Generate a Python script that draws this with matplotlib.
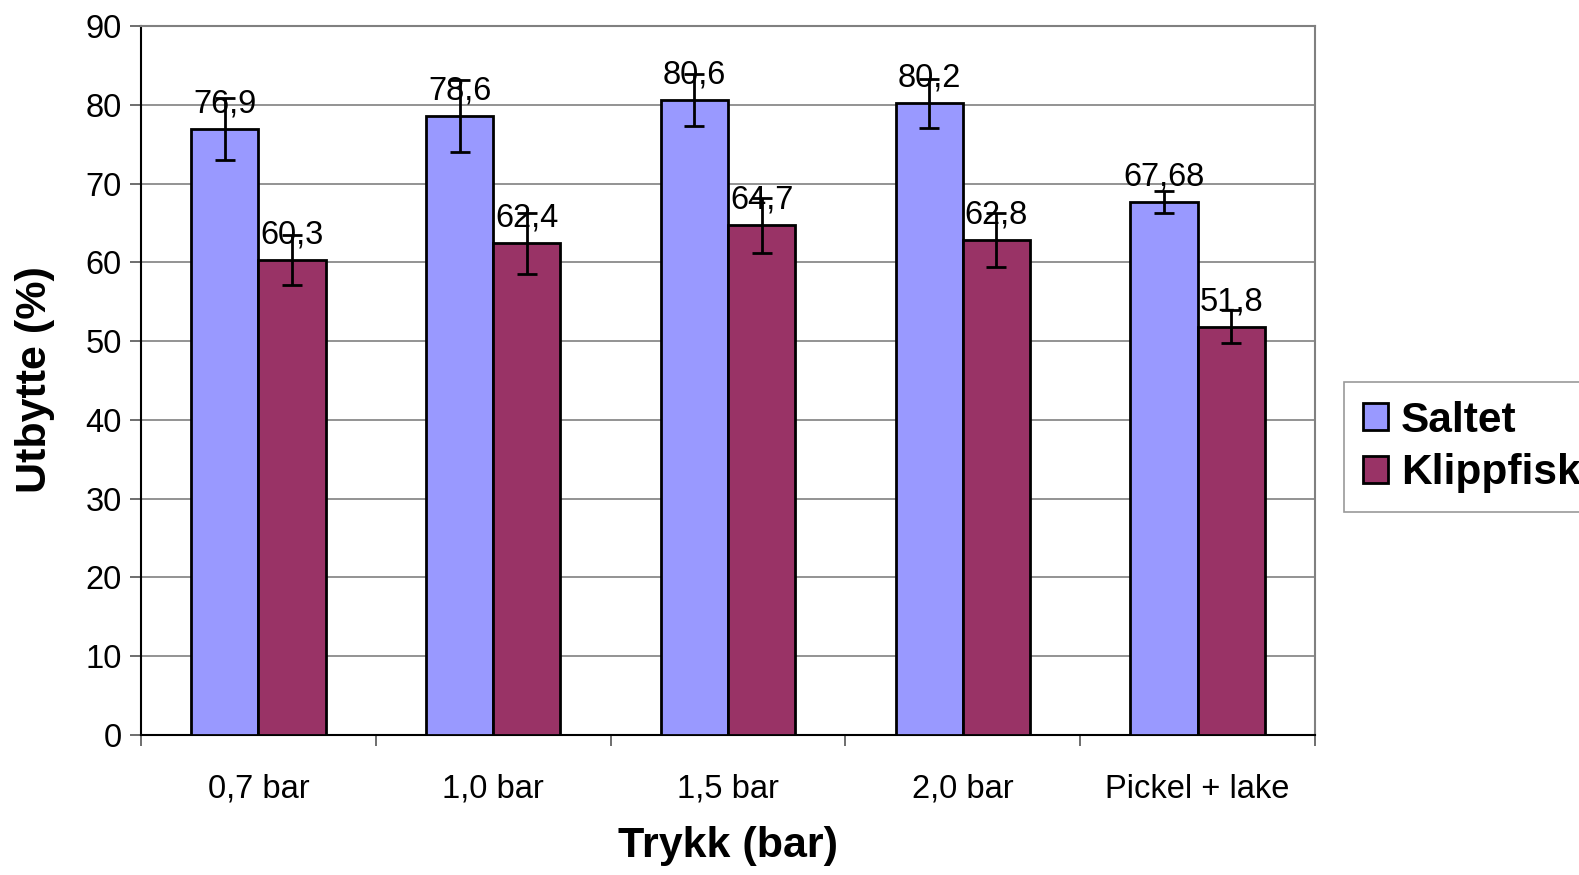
import matplotlib
matplotlib.use("Agg")
import matplotlib.pyplot as plt
import numpy as np

categories = ["0,7 bar", "1,0 bar", "1,5 bar", "2,0 bar", "Pickel + lake"]
saltet = [76.9, 78.6, 80.6, 80.2, 67.68]
klippfisk = [60.3, 62.4, 64.7, 62.8, 51.8]
saltet_err = [3.9, 4.6, 3.3, 3.1, 1.4]
klippfisk_err = [3.2, 3.9, 3.5, 3.4, 2.1]
saltet_labels = ["76,9", "78,6", "80,6", "80,2", "67,68"]
klippfisk_labels = ["60,3", "62,4", "64,7", "62,8", "51,8"]

plt.rcParams['font.family'] = ['Liberation Sans', 'DejaVu Sans']

fig = plt.figure(figsize=(15.79, 8.75), dpi=100)
ax = fig.add_axes([141/1579, 1 - 735/875, (1315-141)/1579, (735-26)/875])

x = np.arange(len(categories))
w = 0.286
c1 = '#9999ff'
c2 = '#993366'
b1 = ax.bar(x - w/2, saltet, w, color=c1, edgecolor='black', linewidth=2, zorder=3, label='Saltet')
b2 = ax.bar(x + w/2, klippfisk, w, color=c2, edgecolor='black', linewidth=2, zorder=3, label='Klippfisk')
ax.errorbar(x - w/2, saltet, yerr=saltet_err, fmt='none', ecolor='black', elinewidth=2, capsize=7, capthick=2, zorder=4)
ax.errorbar(x + w/2, klippfisk, yerr=klippfisk_err, fmt='none', ecolor='black', elinewidth=2, capsize=7, capthick=2, zorder=4)

for xi, v, lab in zip(x - w/2, saltet, saltet_labels):
    ax.annotate(lab, (xi, v), xytext=(0, 7), textcoords='offset points', ha='center', va='bottom', fontsize=23.5, zorder=5)
for xi, v, lab in zip(x + w/2, klippfisk, klippfisk_labels):
    ax.annotate(lab, (xi, v), xytext=(0, 7), textcoords='offset points', ha='center', va='bottom', fontsize=23.5, zorder=5)

ax.set_xlim(-0.5, len(categories) - 0.5)
ax.set_ylim(0, 90)
ax.set_yticks(np.arange(0, 91, 10))
ax.yaxis.grid(True, color='#808080', linewidth=1.2, zorder=0)
ax.set_axisbelow(True)

ax.set_xticks(np.arange(-0.5, len(categories), 1.0))
ax.set_xticklabels([])
ax.set_xticks(x, minor=True)
ax.set_xticklabels(categories, minor=True, fontsize=23.5)
ax.tick_params(axis='x', which='major', length=8, width=1.2, direction='out', color='#555555')
ax.tick_params(axis='x', which='minor', length=0, pad=28)
ax.tick_params(axis='y', length=8, width=1.2, direction='out', labelsize=23.5, pad=6, color='#555555')

for s in ['top', 'right']:
    ax.spines[s].set_color('#808080')
    ax.spines[s].set_linewidth(1.5)
for s in ['left', 'bottom']:
    ax.spines[s].set_color('black')
    ax.spines[s].set_linewidth(1.5)

fig.text(35/1579, 1 - 380/875, "Utbytte (%)", rotation=90, ha='center', va='center', fontsize=31, fontweight='bold')
fig.text(728/1579, 1 - 846/875, "Trykk (bar)", ha='center', va='center', fontsize=31, fontweight='bold')

leg = fig.legend(handles=[b1, b2], loc='center left', bbox_to_anchor=(1344/1579, 1 - 447/875),
                 prop={'weight': 'bold', 'size': 30.5}, frameon=True, fancybox=False,
                 handlelength=0.6, handleheight=0.6, handletextpad=0.3, borderpad=0.45, labelspacing=0.3,
                 borderaxespad=0)
leg.get_frame().set_edgecolor('#808080')
leg.get_frame().set_linewidth(1.2)

fig.savefig("out.png", dpi=100)
